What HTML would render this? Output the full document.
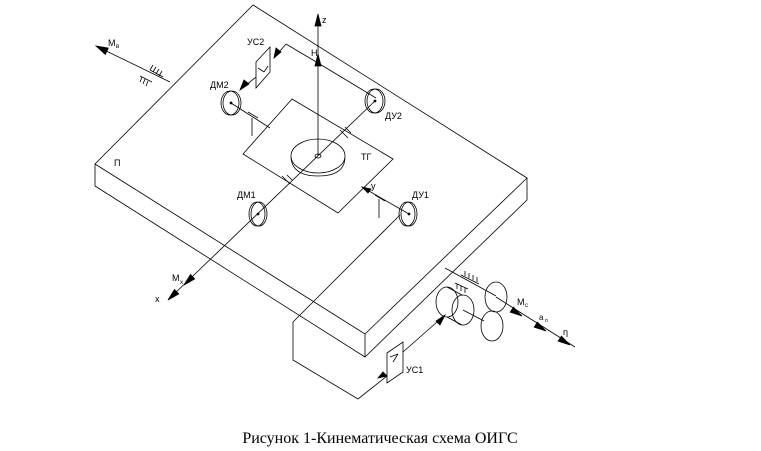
<!DOCTYPE html>
<html><head><meta charset="utf-8"><style>
body{margin:0;background:#fff;width:761px;height:451px;overflow:hidden}
svg{display:block}
text{font-family:"Liberation Sans",sans-serif;font-size:9px;fill:#000}
</style></head><body>
<svg width="761" height="451" viewBox="0 0 761 451" fill="none" stroke="#000" stroke-width="0.8">
<!-- platform -->
<polygon points="95,164 253,5 527,178 365,334"/>
<polyline points="95,164 95,186 365,357 527,200 527,178"/>
<line x1="365" y1="334" x2="365" y2="357"/>
<!-- lower box -->
<polyline points="293,322 293,360 358,399 387,376"/>
<line x1="293" y1="322" x2="400" y2="215"/>
<line x1="403" y1="352" x2="445" y2="315"/>
<!-- gimbal square -->
<polygon points="292,99 393,159 338,213 243,154"/>
<!-- rotor -->
<ellipse cx="318" cy="156" rx="27" ry="17"/>
<path d="M291,157 Q292,176 318,176 Q344,176 345,158"/>
<ellipse cx="318" cy="156" rx="3" ry="2"/>
<!-- z axis -->
<line x1="318" y1="156" x2="318" y2="16"/>
<polygon points="318,14 315,26 321,26" fill="#000"/>
<polygon points="318,54 315,66 321,66" fill="#000"/>
<text x="322" y="23" stroke="none">z</text>
<text x="311" y="56" stroke="none">H</text>
<!-- x axis -->
<line x1="376" y1="100" x2="170" y2="298"/>
<polygon points="168,300 178.7,293.9 174.5,289.5" fill="#000"/>
<polygon points="184,285 194.7,278.9 190.5,274.5" fill="#000"/>
<text x="172" y="281" stroke="none">M</text><text x="180" y="284" stroke="none" style="font-size:6px">x</text>
<text x="155" y="302" stroke="none">x</text>
<line x1="282" y1="176" x2="290" y2="184"/><line x1="287" y1="175" x2="292" y2="180"/>
<line x1="340" y1="130" x2="348" y2="138"/><line x1="345" y1="127" x2="351" y2="133"/>
<!-- outer frame line top -->
<polyline points="286,44 318,63 376,98"/>
<line x1="286" y1="44" x2="274" y2="58"/>
<!-- УС2 -->
<polygon points="256,62 270,47 270,72 256,88"/>
<line x1="258" y1="68" x2="264" y2="72"/><line x1="264" y1="72" x2="268" y2="66"/>
<polygon points="274,58 276,48 281,52" fill="#000"/>
<polygon points="240,90 244,80 249,84" fill="#000"/>
<line x1="256" y1="77" x2="240" y2="90"/>
<text x="247" y="45" stroke="none">УС2</text>
<!-- ДМ2 -->
<ellipse cx="230" cy="103" rx="9" ry="12"/><ellipse cx="232" cy="103" rx="9" ry="12"/>
<circle cx="231" cy="103" r="1" fill="#000"/>
<text x="210" y="88" stroke="none">ДМ2</text>
<line x1="231" y1="103" x2="270" y2="128"/>
<line x1="248" y1="112" x2="258" y2="118"/><line x1="252" y1="118" x2="252" y2="136"/>
<!-- ДУ2 -->
<ellipse cx="374" cy="101" rx="9" ry="12"/><ellipse cx="376" cy="101" rx="9" ry="12"/>
<circle cx="375" cy="101" r="1" fill="#000"/>
<text x="385" y="119" stroke="none">ДУ2</text>
<!-- ДМ1 -->
<ellipse cx="257" cy="214" rx="8" ry="12"/><ellipse cx="259" cy="214" rx="8" ry="12"/>
<circle cx="258" cy="214" r="1" fill="#000"/>
<text x="237" y="198" stroke="none">ДМ1</text>
<!-- ДУ1 & y -->
<line x1="362" y1="187" x2="409" y2="214"/>
<polygon points="362,187 371,189 368,193" fill="#000"/>
<text x="371" y="189" stroke="none">y</text>
<line x1="375" y1="195" x2="385" y2="201"/><line x1="379" y1="199" x2="379" y2="218"/>
<ellipse cx="407" cy="214" rx="8" ry="12"/><ellipse cx="409" cy="214" rx="8" ry="12"/>
<circle cx="409" cy="214" r="1" fill="#000"/>
<text x="412" y="198" stroke="none">ДУ1</text>
<text x="114" y="166" stroke="none">П</text>
<text x="361" y="160" stroke="none">ТГ</text>
<!-- Mв -->
<line x1="170" y1="82" x2="100" y2="48"/>
<polygon points="96,46 108.3,48.1 105.3,54.5" fill="#000"/>
<text x="108" y="46" stroke="none">M</text><text x="116" y="48" stroke="none" style="font-size:6px">в</text>
<path d="M150,70 l3,-5 M153,72 l3,-5 M156,74 l3,-5 M159,76 l3,-5 M150,70 L163,77"/>
<path d="M142,77 l-2,5 M145,79 l-2,5 M148,81 l-2,5 M140,76 L152,82"/>
<!-- bottom right assembly -->
<line x1="447" y1="287" x2="462" y2="295"/><line x1="447" y1="317" x2="462" y2="325"/>
<ellipse cx="447" cy="302" rx="11" ry="15"/>
<ellipse cx="463" cy="310" rx="11" ry="15"/>
<line x1="463" y1="310" x2="484" y2="321"/>
<ellipse cx="496" cy="297" rx="11" ry="15"/>
<ellipse cx="492" cy="326" rx="11" ry="15"/>
<line x1="445" y1="268" x2="496" y2="296"/>
<line x1="496" y1="297" x2="575" y2="347"/>
<polygon points="522,316 510.2,312.1 513.4,307.1" fill="#000"/>
<polygon points="546,331 534.2,327.1 537.4,322.1" fill="#000"/>
<polygon points="570,345 558.2,341.1 561.4,336.1" fill="#000"/>
<text x="517" y="305" stroke="none">M</text><text x="525" y="307" stroke="none" style="font-size:6px">c</text>
<text x="539" y="320" stroke="none" style="font-size:8px">a</text><text x="545" y="322" stroke="none" style="font-size:5px">п</text>
<text x="563" y="335" stroke="none">η</text>
<path d="M465,276 l0,-5 M469,278 l0,-5 M473,280 l0,-5 M477,282 l0,-5 M461,275 L479,284"/>
<path d="M457,284 l0,5 M461,286 l0,5 M465,288 l0,5 M455,283 L468,289"/>
<!-- УС1 -->
<polygon points="387,353 403,342 403,372 387,383"/>
<line x1="390" y1="357" x2="398" y2="354"/><line x1="398" y1="354" x2="393" y2="362"/>
<polygon points="387,376 378,378 383,372" fill="#000"/>
<polygon points="445,315 440,325 436,321" fill="#000"/>
<text x="406" y="373" stroke="none">УС1</text>
<text x="380" y="443" stroke="none" text-anchor="middle" style="font-family:'Liberation Serif',serif;font-size:16px">Рисунок 1-Кинематическая схема ОИГС</text>
</svg>
</body></html>
